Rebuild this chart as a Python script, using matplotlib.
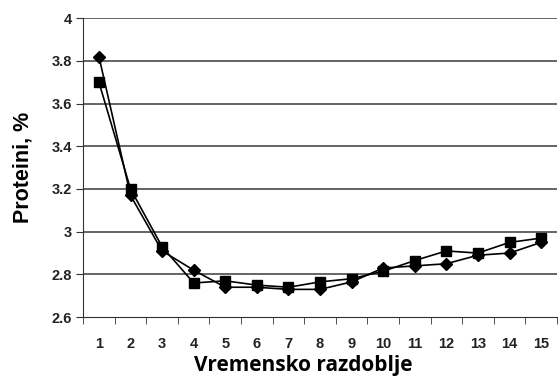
import matplotlib.pyplot as plt
import numpy as np

# vremensko razdoblje 1..15
periods = list(range(1, 16))
protein_a = [3.82, 3.17, 2.91, 2.82, 2.74, 2.74, 2.73, 2.73, 2.765, 2.83, 2.84, 2.85, 2.89, 2.90, 2.95]
protein_b = [3.70, 3.20, 2.93, 2.76, 2.77, 2.75, 2.74, 2.765, 2.78, 2.815, 2.865, 2.91, 2.90, 2.95, 2.97]
y_ticks = [2.6, 2.8, 3.0, 3.2, 3.4, 3.6, 3.8, 4.0]
y_tick_labels = ['2.6', '2.8', '3', '3.2', '3.4', '3.6', '3.8', '4']

fig = plt.figure(figsize=(5.58, 3.78), dpi=100)
ax = fig.add_axes([0.149, 0.161, 0.849, 0.791])

for yv in y_ticks[1:]:
    ax.axhline(yv, color='#3a3a3a', lw=1.1, zorder=1)

ax.plot(periods, protein_a, color='black', lw=1.2, marker='D', markersize=6, zorder=3)
ax.plot(periods, protein_b, color='black', lw=1.2, marker='s', markersize=7, zorder=3)

ax.set_xlim(0.5, 15.5)
ax.set_ylim(2.6, 4.0)

ax.set_yticks(y_ticks)
ax.set_yticklabels(y_tick_labels)
ax.set_xticks(periods)
ax.set_xticks(np.arange(0.5, 16, 1.0), minor=True)
ax.tick_params(axis='x', which='major', length=0, pad=14)
ax.tick_params(axis='x', which='minor', length=5, direction='out', color='#333')
ax.tick_params(axis='y', length=5, direction='out', color='#333', pad=3)

for lab in ax.get_xticklabels() + ax.get_yticklabels():
    lab.set_fontfamily('Liberation Sans')
    lab.set_fontweight('bold')
    lab.set_fontsize(10.5)
    lab.set_color('#222')

ax.spines['top'].set_visible(False)
ax.spines['right'].set_visible(False)
ax.spines['left'].set_color('#333')
ax.spines['bottom'].set_color('#333')

ax.set_xlabel('Vremensko razdoblje', fontfamily='Open Sans', fontweight='bold', fontsize=15, labelpad=3)
ax.xaxis.label.set_x(0.465)
ax.set_ylabel('Proteini, %', fontfamily='Liberation Sans', fontweight='bold', fontsize=15.5, labelpad=13)

fig.savefig('out.png', dpi=100)
